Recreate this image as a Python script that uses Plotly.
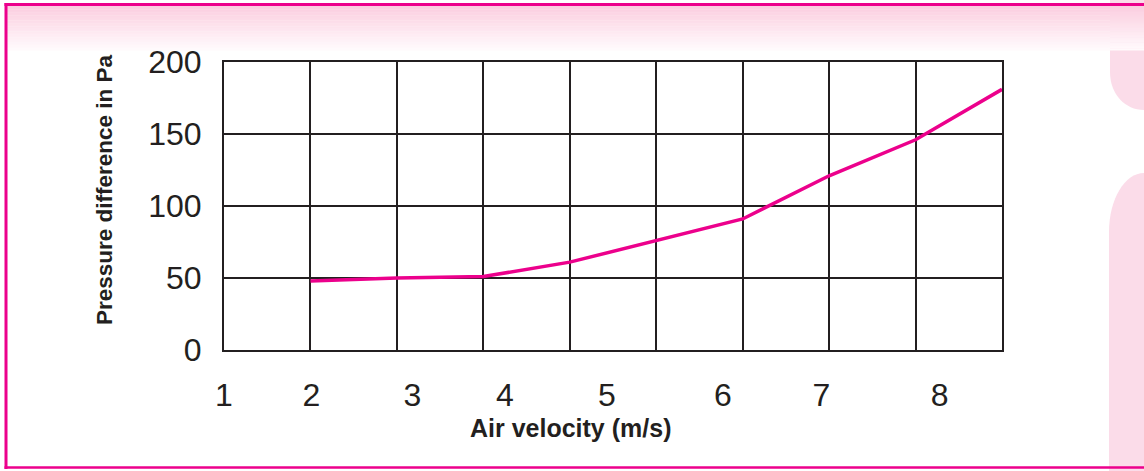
import plotly.graph_objects as go

# ---- data ----
grid_x = [1, 2, 3, 4, 6, 7, 8, 9]              # position along the gridded velocity axis
pressure_pa = [48, 50, 51, 61, 91, 121, 146, 181]
velocity_labels = ["1", "2", "3", "4", "5", "6", "7", "8"]
velocity_label_pos = [0, 1.01, 2.18, 3.25, 4.43, 5.77, 6.91, 8.28]
y_ticks = [0, 50, 100, 150, 200]

PINK = "#ec008c"
LIGHT = "#fbdce9"
INK = "#231f20"

# plot-area pixel box (for decorative frame shapes)
L, R, T, B = 224, 1002, 62, 350
def px(x):
    return (x - L) / (R - L)
def py(y):
    return (B - y) / (B - T)

fig = go.Figure()
fig.add_trace(go.Scatter(
    x=grid_x, y=pressure_pa, mode="lines",
    line=dict(color=PINK, width=3.5), hoverinfo="skip", showlegend=False))

shapes = []
# right-side light pink tabs
shapes.append(dict(type="path", xref="paper", yref="paper", layer="below",
    path=f"M {px(1110)},{py(0)} L {px(1110)},{py(72)} C {px(1110)},{py(94)} {px(1125)},{py(110)} {px(1144)},{py(110)} L {px(1144)},{py(0)} Z",
    fillcolor=LIGHT, line=dict(width=0)))
shapes.append(dict(type="path", xref="paper", yref="paper", layer="below",
    path=f"M {px(1109)},{py(471)} L {px(1109)},{py(232)} C {px(1109)},{py(199)} {px(1125)},{py(173)} {px(1144)},{py(173)} L {px(1144)},{py(471)} Z",
    fillcolor=LIGHT, line=dict(width=0)))
# top gradient band
n = 28
y0, y1 = 6, 50
c0 = (251, 206, 224)
c1 = (255, 250, 252)
for i in range(n):
    t = i / (n - 1)
    c = tuple(round(c0[k] + (c1[k] - c0[k]) * t) for k in range(3))
    ya = y0 + (y1 - y0) * i / n
    yb = y0 + (y1 - y0) * (i + 1) / n + 0.4
    shapes.append(dict(type="rect", xref="paper", yref="paper", layer="below",
        x0=px(6), x1=px(1144), y0=py(ya), y1=py(yb),
        fillcolor="rgb(%d,%d,%d)" % c, line=dict(width=0)))
# pink frame lines
shapes.append(dict(type="line", xref="paper", yref="paper", layer="above",
    x0=px(4.5), x1=px(1144), y0=py(4.5), y1=py(4.5), line=dict(color=PINK, width=3)))
shapes.append(dict(type="line", xref="paper", yref="paper", layer="above",
    x0=px(6), x1=px(6), y0=py(3), y1=py(469), line=dict(color=PINK, width=3)))
shapes.append(dict(type="line", xref="paper", yref="paper", layer="above",
    x0=px(4.5), x1=px(1144), y0=py(467.5), y1=py(467.5), line=dict(color=PINK, width=2.5)))

fig.update_layout(
    width=1144, height=471,
    margin=dict(l=L, r=1144 - R, t=T, b=471 - B, pad=0),
    paper_bgcolor="white", plot_bgcolor="rgba(0,0,0,0)",
    shapes=shapes,
    font=dict(family="Liberation Sans, Arial, sans-serif", color=INK),
    xaxis=dict(
        range=[0, 9], tickmode="array", tickvals=velocity_label_pos, ticktext=velocity_labels,
        ticks="", showgrid=False, zeroline=False,
        showline=True, mirror=True, linecolor=INK, linewidth=2,
        tickfont=dict(size=32, color=INK), ticklabelstandoff=16,
        minor=dict(tick0=0, dtick=1, showgrid=True, gridcolor=INK, gridwidth=2, ticks=""),
    ),
    yaxis=dict(
        range=[0, 200], tickmode="array", tickvals=y_ticks,
        ticks="", showgrid=True, gridcolor=INK, gridwidth=2, zeroline=False,
        showline=True, mirror=True, linecolor=INK, linewidth=2,
        tickfont=dict(size=32, color=INK), ticklabelstandoff=14,
    ),
    annotations=[
        dict(text="<b>Air velocity (m/s)</b>", xref="paper", yref="paper",
             x=px(570), y=py(428), xanchor="center", yanchor="middle", showarrow=False,
             font=dict(size=25, color=INK)),
        dict(text="<b>Pressure difference in Pa</b>", xref="paper", yref="paper",
             x=px(104), y=py(190), xanchor="center", yanchor="middle", showarrow=False,
             textangle=-90, font=dict(size=22.5, color=INK)),
    ],
)

fig.write_html("out.html", config={"displayModeBar": False},
               post_script="document.body.style.margin='0px';document.body.style.overflow='hidden';")
